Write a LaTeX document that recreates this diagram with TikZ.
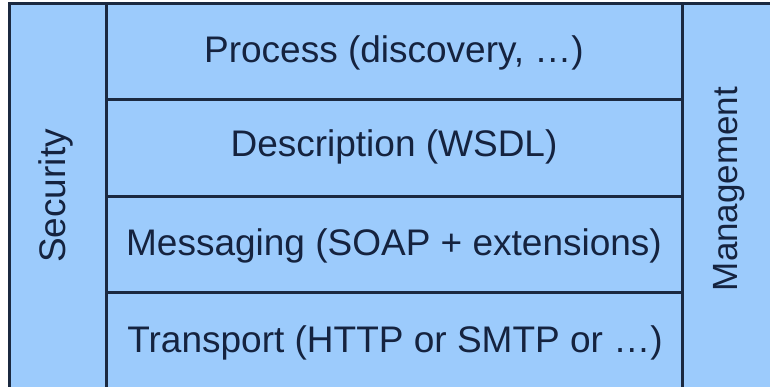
\documentclass[tikz,border=0pt]{standalone}
\usepackage{fontspec}
\setmainfont{Liberation Sans}
\definecolor{boxfill}{HTML}{9CCBFC}
\definecolor{boxline}{HTML}{1B2940}
\definecolor{txt}{HTML}{15233F}
\begin{document}
\begin{tikzpicture}[x=1pt,y=-1pt,
  cell/.style={draw=boxline,fill=boxfill,line width=3pt},
  lbl/.style={font=\fontsize{37}{40}\selectfont,text=txt,inner sep=0pt,anchor=base},
  vlbl/.style={font=\fontsize{37}{40}\selectfont,text=txt,inner sep=0pt,rotate=90}]
\useasboundingbox (0,0) rectangle (770,387);
\fill[white] (0,0) rectangle (770,387);
% columns
\draw[cell] (9,4) rectangle (106,400);
\draw[cell] (682,4) rectangle (790,400);
% layers
\draw[cell] (106,4) rectangle (682,100);
\draw[cell] (106,100) rectangle (682,197);
\draw[cell] (106,197) rectangle (682,292);
\draw[cell] (106,292) rectangle (682,400);
% texts
\node[lbl] (process) at (394,63) {Process (discovery, …)};
\node[lbl] (description) at (394,157) {Description (WSDL)};
\node[lbl] (messaging) at (394,255) {Messaging (SOAP + extensions)};
\node[lbl] (transport) at (395,352) {Transport (HTTP or SMTP or …)};
\node[vlbl] (security) at (56,196) {Security};
\node[vlbl,font=\fontsize{35}{38}\selectfont] (management) at (729,189) {Management};
\end{tikzpicture}
\end{document}
